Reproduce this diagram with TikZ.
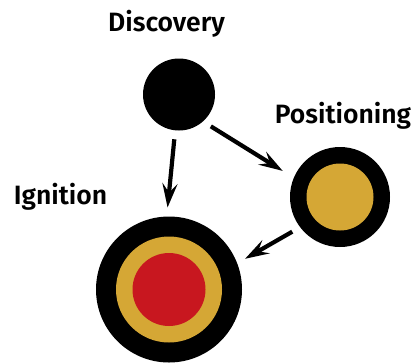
\documentclass[tikz,border=0pt]{standalone}
\usepackage{fontspec}
\newfontfamily\labfont{Fira Sans SemiBold}
\usetikzlibrary{arrows.meta}
\definecolor{gold}{HTML}{D5A735}
\definecolor{cred}{HTML}{C8171F}
\begin{document}
\begin{tikzpicture}[x=1pt,y=-1pt,
  lab/.style={font=\labfont\fontsize{26.5}{29}\selectfont, anchor=base, inner sep=0pt},
  disc/.style={circle, inner sep=0pt, outer sep=9pt, minimum size=#1, draw=none},
  conn/.style={line width=4.2pt, -{Stealth[length=24pt,width=15pt,inset=9pt]}}]
\useasboundingbox (0,0) rectangle (414,362);
\node[lab] (tD) at (166.5,31) {Discovery};
\node[lab] (tP) at (343,123) {Positioning};
\node[lab] (tI) at (60.5,204) {Ignition};
\node[disc=72pt, fill=black] (d) at (179,94.5) {};
\node[disc=100pt, fill=black] (p) at (340,197) {};
\node[disc=67pt, fill=gold] (p2) at (340,197) {};
\node[disc=146pt, fill=black] (i) at (169,289.5) {};
\node[disc=106pt, fill=gold] (i2) at (169,289.5) {};
\node[disc=73pt, fill=cred] (i3) at (169,289.5) {};
\draw[conn] (d.-96) -- (i.91);
\draw[conn, shorten >=4pt] (d.-45) -- (p.156);
\draw[conn] (p.-144) -- (i.22);
\end{tikzpicture}
\end{document}
